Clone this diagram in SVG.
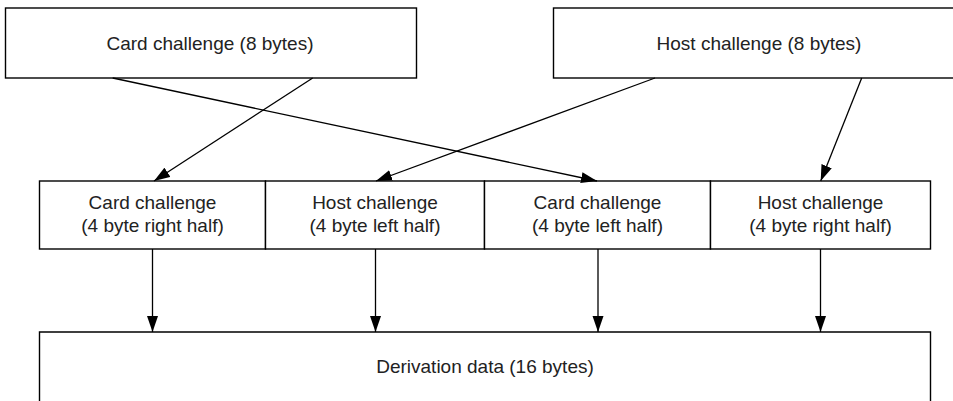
<svg xmlns="http://www.w3.org/2000/svg" width="953" height="401" viewBox="0 0 953 401">
  <style>
    .box { fill: #ffffff; stroke: #000000; stroke-width: 1.4; }
    .lbl { font-family: "Liberation Sans", Arial, sans-serif; font-size: 19px; fill: #222222; text-anchor: middle; }
    .conn { fill: none; stroke: #000000; stroke-width: 1.3; marker-end: url(#arrow); }
  </style>
  <defs>
    <marker id="arrow" markerUnits="userSpaceOnUse" markerWidth="17" markerHeight="12" refX="16" refY="6" orient="auto">
      <path d="M0,0.5 L16,6 L0,11.5 z" fill="#000000"/>
    </marker>
  </defs>
  <rect width="953" height="401" fill="#ffffff"/>

  <g id="card8">
    <rect class="box" x="5.5" y="8" width="411" height="70"/>
    <text class="lbl" x="210" y="50">Card challenge (8 bytes)</text>
  </g>
  <g id="host8">
    <rect class="box" x="553.5" y="8" width="405" height="70"/>
    <text class="lbl" x="759" y="50">Host challenge (8 bytes)</text>
  </g>

  <g id="cardRight">
    <rect class="box" x="39.5" y="181" width="226" height="68"/>
    <text class="lbl" x="152.5" y="209">Card challenge</text>
    <text class="lbl" x="152.5" y="232">(4 byte right half)</text>
  </g>
  <g id="hostLeft">
    <rect class="box" x="265.5" y="181" width="219" height="68"/>
    <text class="lbl" x="375" y="209">Host challenge</text>
    <text class="lbl" x="375" y="232">(4 byte left half)</text>
  </g>
  <g id="cardLeft">
    <rect class="box" x="484.5" y="181" width="226" height="68"/>
    <text class="lbl" x="597.5" y="209">Card challenge</text>
    <text class="lbl" x="597.5" y="232">(4 byte left half)</text>
  </g>
  <g id="hostRight">
    <rect class="box" x="710.5" y="181" width="220" height="68"/>
    <text class="lbl" x="820.5" y="209">Host challenge</text>
    <text class="lbl" x="820.5" y="232">(4 byte right half)</text>
  </g>

  <g id="derivation">
    <path d="M39.5,410 L39.5,332 L930.5,332 L930.5,410" fill="#ffffff" stroke="#000000" stroke-width="1.4"/>
    <text class="lbl" x="485" y="373">Derivation data (16 bytes)</text>
  </g>

  <g id="connectors">
    <line class="conn" x1="312.7" y1="78" x2="154" y2="181"/>
    <line class="conn" x1="112.7" y1="78" x2="597" y2="181"/>
    <line class="conn" x1="655" y1="78" x2="376" y2="181"/>
    <line class="conn" x1="861.7" y1="78" x2="820.7" y2="181"/>
    <line class="conn" x1="152.5" y1="249" x2="152.5" y2="332"/>
    <line class="conn" x1="375.5" y1="249" x2="375.5" y2="332"/>
    <line class="conn" x1="598" y1="249" x2="598" y2="332"/>
    <line class="conn" x1="820.5" y1="249" x2="820.5" y2="332"/>
  </g>
</svg>
